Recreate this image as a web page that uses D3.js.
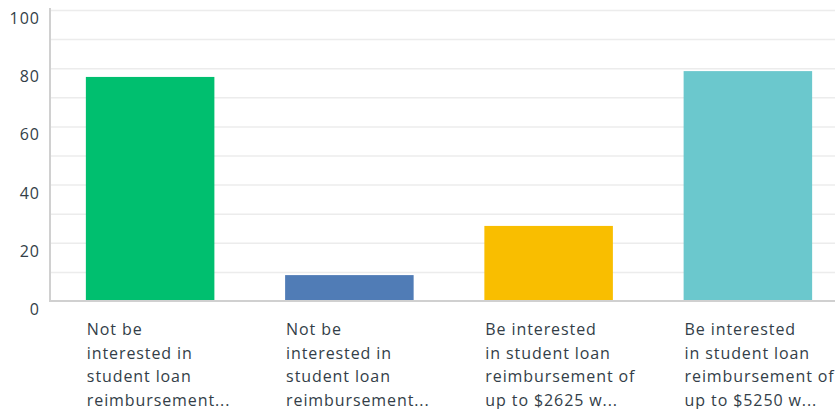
<!DOCTYPE html>
<meta charset="utf-8">
<style>
    body { margin: 0; background: #fff; }
    svg { display: block; font-family: "Open Sans", sans-serif; }
    .grid line { stroke: #ececec; stroke-width: 1.5px; }
    .grid path { display: none; }
    .axis-line { stroke: #d0d0d0; stroke-width: 2px; }
    .ytick { fill: #333e48; font-size: 16px; letter-spacing: 1px; }
    .xlabel { fill: #333e48; font-size: 16px; letter-spacing: 0.9px; }
</style>
<svg width="835" height="409"></svg>
<script src="https://d3js.org/d3.v7.min.js"></script>
<script>
    var categories = ["Not be interested 1", "Not be interested 2", "Interested 2625", "Interested 5250"];
    var labelLines = [
        ["Not be", "interested in", "student loan", "reimbursement..."],
        ["Not be", "interested in", "student loan", "reimbursement..."],
        ["Be interested", "in student loan", "reimbursement of", "up to $2625 w..."],
        ["Be interested", "in student loan", "reimbursement of", "up to $5250 w..."]
    ];
    var values = [77, 8.9, 25.8, 79];
    var colors = ["#00bf6f", "#507cb6", "#f9be00", "#6bc8cd"];
    var yTicks = [0, 20, 40, 60, 80, 100];

    var svg = d3.select("svg");
    var mLeft = 50, mTop = 10, mBottom = 301;

    var x = d3.scaleBand().domain(categories).range([mLeft, 848])
        .paddingInner(0.355).paddingOuter(0.18);
    var y = d3.scaleLinear().domain([0, 100]).range([mBottom, mTop]);

    // gridlines every 10
    svg.append("g")
        .attr("class", "grid")
        .attr("transform", "translate(" + mLeft + ",0)")
        .call(d3.axisRight(y).tickValues(d3.range(10, 101, 10)).tickSize(835 - mLeft).tickFormat(""));

    svg.selectAll(".bar")
        .data(values)
        .enter().append("rect")
        .attr("class", "bar")
        .attr("x", function(d, i) { return x(categories[i]); })
        .attr("width", x.bandwidth())
        .attr("y", function(d) { return y(d); })
        .attr("height", function(d) { return y(0) - y(d); })
        .attr("fill", function(d, i) { return colors[i]; });

    svg.append("line").attr("class", "axis-line")
        .attr("x1", mLeft).attr("x2", mLeft).attr("y1", mTop - 2).attr("y2", mBottom + 1);
    svg.append("line").attr("class", "axis-line")
        .attr("x1", mLeft - 1).attr("x2", 835).attr("y1", mBottom).attr("y2", mBottom);

    svg.selectAll(".ytick")
        .data(yTicks)
        .enter().append("text")
        .attr("class", "ytick")
        .attr("x", 40)
        .attr("y", function(d) { return y(d) + 14; })
        .attr("text-anchor", "end")
        .text(function(d) { return d; });

    var labels = svg.selectAll(".xlabel")
        .data(labelLines)
        .enter().append("text")
        .attr("class", "xlabel")
        .attr("x", function(d, i) { return x(categories[i]) + 1; })
        .attr("y", 335);
    labels.selectAll("tspan")
        .data(function(d) { return d; })
        .enter().append("tspan")
        .attr("x", function() { return d3.select(this.parentNode).attr("x"); })
        .attr("dy", function(d, i) { return i === 0 ? 0 : 23.5; })
        .text(function(d) { return d; });
</script>
